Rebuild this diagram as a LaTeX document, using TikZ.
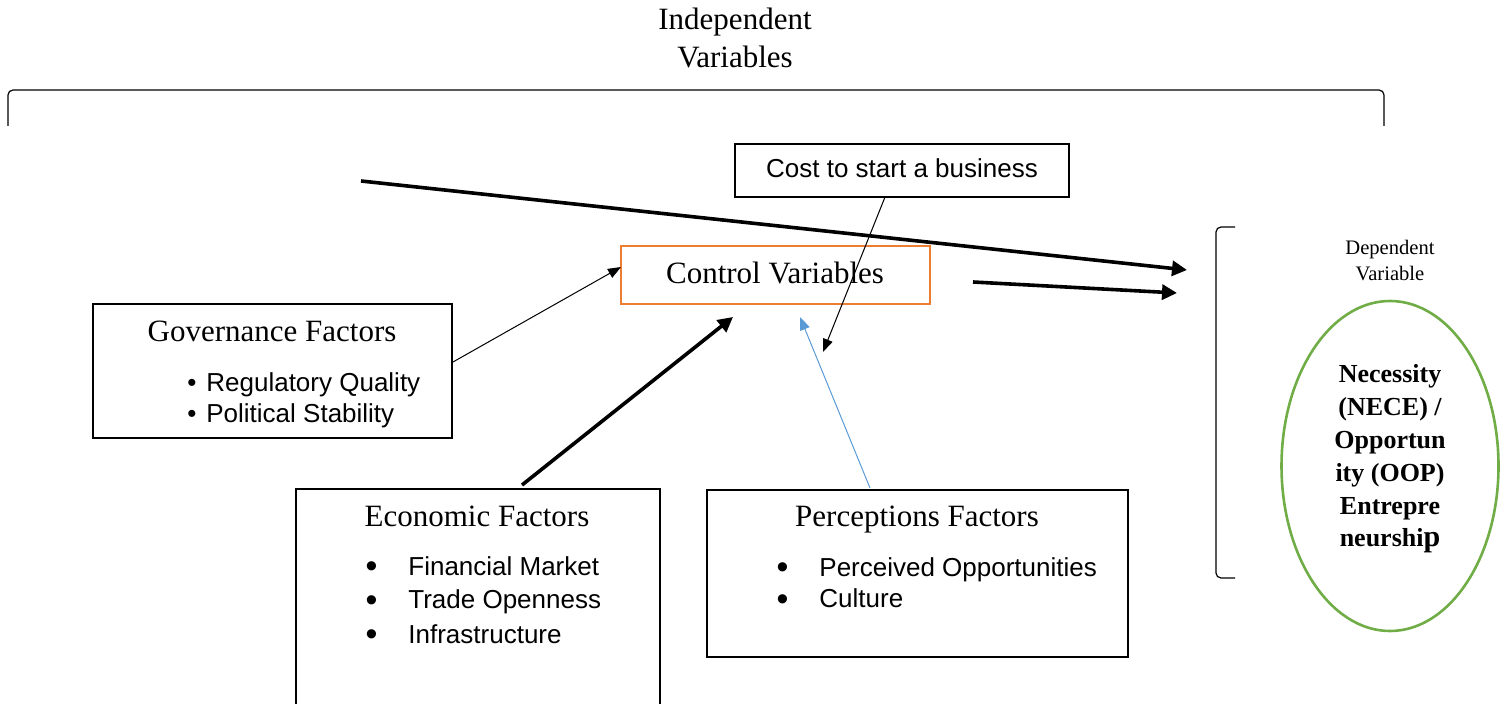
\documentclass[tikz,border=0pt]{standalone}
\usepackage{fontspec}
\setmainfont{Liberation Serif}
\newfontfamily\arial{Liberation Sans}
\usetikzlibrary{arrows.meta,shapes.geometric}
\definecolor{ctrlorange}{HTML}{ED7D31}
\definecolor{depgreen}{HTML}{70AD47}
\definecolor{linkblue}{HTML}{5B9BD5}
\newcommand{\bigbullet}{\raisebox{-1.3pt}{\scalebox{1.3}{\textbullet}}}

\begin{document}
\begin{tikzpicture}[x=0.5pt,y=-0.5pt,
  box/.style={draw, line width=0.6pt, anchor=north west, inner sep=0, outer sep=0},
  heading/.style={anchor=base, inner sep=0, font=\fontsize{15.5}{19}\selectfont},
  item/.style={anchor=base west, inner sep=0, font=\arial\fontsize{13}{15}\selectfont},
  thinarrow/.style={line width=0.5pt, -{Triangle[length=6.5pt,width=5pt]}},
  thickarrow/.style={line width=1.8pt, -{Triangle[length=7.5pt,width=7.5pt]}},
  bracketline/.style={line width=0.6pt, rounded corners=2.5pt}
]
\useasboundingbox (0,0) rectangle (1508,704);
\clip (0,0) rectangle (1508,704);

% header over the independent variables (anchored on its last line)
\node[heading, align=center] (indep) at (735,68) {Independent\\Variables};
\draw[bracketline] (8,126) -- (8,90) -- (1384,90) -- (1384,126);

% boxes
\node[box, minimum width=167pt, minimum height=26.5pt] (cost) at (735,144) {};
\node[anchor=base, inner sep=0, font=\arial\fontsize{13}{15}\selectfont] (costtxt) at (902,178) {Cost to start a business};

\node[box, draw=ctrlorange, line width=1.4pt, minimum width=154.5pt, minimum height=29pt] (ctrl) at (621,246) {};
\node[heading] (ctrltxt) at (775,284) {Control Variables};

\node[box, minimum width=179.5pt, minimum height=67pt] (gov) at (93,304) {};
\node[heading] (govtxt) at (272,342) {Governance Factors};
\node[item] (gov1) at (206,392) {\llap{\textbullet\hspace{5pt}}Regulatory Quality};
\node[item] (gov2) at (206,423) {\llap{\textbullet\hspace{5pt}}Political Stability};

\node[box, minimum width=182pt, minimum height=125pt] (eco) at (296,489) {};
\node[heading] (ecotxt) at (477,527) {Economic Factors};
\node[item] (eco1) at (408,575) {\llap{\bigbullet\hspace{15.5pt}}Financial Market};
\node[item] (eco2) at (408,609) {\llap{\bigbullet\hspace{15.5pt}}Trade Openness};
\node[item] (eco3) at (408,643) {\llap{\bigbullet\hspace{15.5pt}}Infrastructure};

\node[box, minimum width=210.5pt, minimum height=83.5pt] (perc) at (707,490) {};
\node[heading] (perctxt) at (917,527) {Perceptions Factors};
\node[item] (perc1) at (819,576) {\llap{\bigbullet\hspace{15.5pt}}Perceived Opportunities};
\node[item] (perc2) at (819,608) {\llap{\bigbullet\hspace{15.5pt}}Culture};

% dependent variable
\draw[bracketline] (1235,227) -- (1216,227) -- (1216,578) -- (1235,578);
\node[anchor=base, inner sep=0, align=center, font=\fontsize{10.3}{13}\selectfont] (deptxt) at (1390,281) {Dependent\\Variable};
\node[draw=depgreen, line width=1.3pt, ellipse, minimum width=108.5pt, minimum height=165pt, inner sep=0] (dep) at (1390,466) {};
\node[anchor=base, inner sep=0, align=center, font=\bfseries\fontsize{13}{16.4}\selectfont] (deplbl) at (1390,547)
  {Necessity\\(NECE) /\\Opportun\\ity (OOP)\\Entrepre\\neurshi{\fontsize{15}{16.4}\selectfont p}};

% connectors
\coordinate (govout) at (453,362);
\coordinate (ctrlin) at (621,267);
\draw[thinarrow] (govout) -- (ctrlin);

\coordinate (ecoout) at (522,485);
\coordinate (ctrlbelow) at (733,317);
\draw[thickarrow] (ecoout) -- (ctrlbelow);

\coordinate (percout) at (870,488);
\coordinate (ctrlbelow2) at (800,317);
\draw[thinarrow, draw=linkblue, -{Triangle[length=6.5pt,width=5pt,fill=linkblue]}] (percout) -- (ctrlbelow2);

\coordinate (costout) at (885,197);
\coordinate (costend) at (823,352);
\draw[thinarrow] (costout) -- (costend);

\coordinate (indepstart) at (361,181);
\coordinate (depin1) at (1187,270);
\draw[thickarrow] (indepstart) -- (depin1);

\coordinate (ctrlout) at (973,282);
\coordinate (depin2) at (1177,293);
\draw[thickarrow] (ctrlout) -- (depin2);
\end{tikzpicture}
\end{document}
